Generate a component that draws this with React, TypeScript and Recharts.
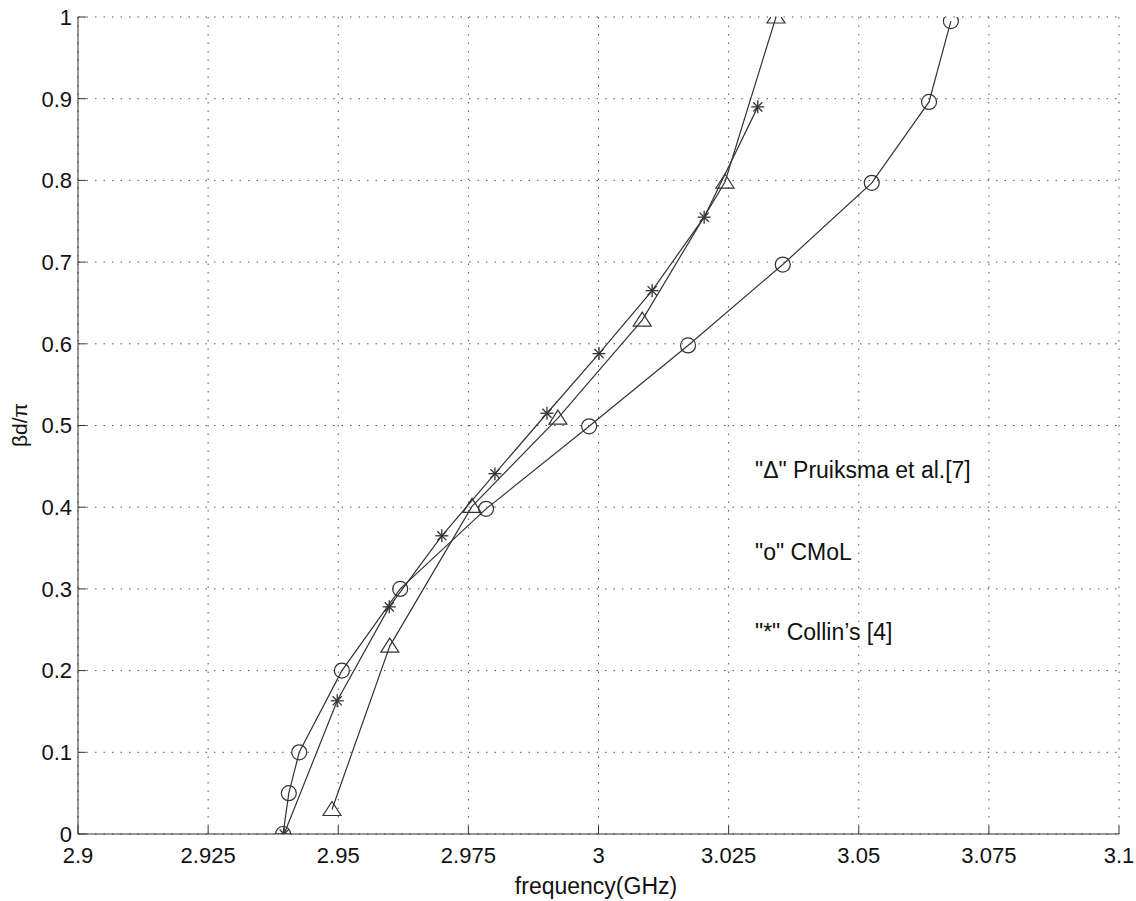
import {
  ScatterChart,
  Scatter,
  XAxis,
  YAxis,
  CartesianGrid,
} from "recharts";

// frequency (GHz) / beta*d/pi
const pruiksmaFreq = [2.9488, 2.9599, 2.9757, 2.9922, 3.0084, 3.0243, 3.0341];
const pruiksmaBeta = [0.03, 0.23, 0.401, 0.509, 0.629, 0.798, 1.0];

const cmolFreq = [2.9394, 2.9405, 2.9425, 2.9507, 2.9619, 2.9784, 2.9982, 3.0172, 3.0354, 3.0525, 3.0635, 3.0677];
const cmolBeta = [0, 0.05, 0.1, 0.2, 0.3, 0.398, 0.499, 0.598, 0.697, 0.797, 0.896, 0.995];

const collinFreq = [2.9396, 2.9498, 2.9598, 2.9699, 2.9801, 2.9901, 3.0001, 3.0103, 3.0203, 3.0306];
const collinBeta = [0, 0.163, 0.278, 0.365, 0.441, 0.515, 0.588, 0.665, 0.755, 0.89];

const xTicks = [2.9, 2.925, 2.95, 2.975, 3, 3.025, 3.05, 3.075, 3.1];
const xTickLabels = ["2.9", "2.925", "2.95", "2.975", "3", "3.025", "3.05", "3.075", "3.1"];
const yTicks = [0, 0.1, 0.2, 0.3, 0.4, 0.5, 0.6, 0.7, 0.8, 0.9, 1];
const yTickLabels = ["0", "0.1", "0.2", "0.3", "0.4", "0.5", "0.6", "0.7", "0.8", "0.9", "1"];

const notes = ['"\u0394" Pruiksma et al.[7]', '"o" CMoL', '"*" Collin\u2019s [4]'];

const toPoints = (fs: number[], bs: number[]) => fs.map((f, i) => ({ f, b: bs[i] }));

const INK = "#333";
const FONT = "'Liberation Sans', Arial, sans-serif";

const Triangle = (p: any) => (
  <polygon
    points={`${p.cx},${p.cy - 8} ${p.cx - 9},${p.cy + 6} ${p.cx + 9},${p.cy + 6}`}
    fill="none"
    stroke={INK}
    strokeWidth={1.2}
  />
);

const Circle = (p: any) => (
  <circle cx={p.cx} cy={p.cy} r={7.5} fill="none" stroke={INK} strokeWidth={1.2} />
);

const Star = (p: any) => {
  const r = 6.5;
  const d = r * 0.7;
  return (
    <g stroke={INK} strokeWidth={1.3}>
      <line x1={p.cx - r} y1={p.cy} x2={p.cx + r} y2={p.cy} />
      <line x1={p.cx} y1={p.cy - r} x2={p.cx} y2={p.cy + r} />
      <line x1={p.cx - d} y1={p.cy - d} x2={p.cx + d} y2={p.cy + d} />
      <line x1={p.cx - d} y1={p.cy + d} x2={p.cx + d} y2={p.cy - d} />
    </g>
  );
};

const lineStyle = { stroke: INK, strokeWidth: 1.2 };
const tickStyle = { fill: "#111", fontSize: 22, fontFamily: FONT };

export default function App() {
  return (
    <div style={{ position: "absolute", left: 0, top: 0, width: 1136, height: 901, background: "#fff" }}>
      <ScatterChart
        width={1136}
        height={901}
        margin={{ top: 17, right: 17, left: 18, bottom: 27 }}
      >
        <CartesianGrid stroke="#555" strokeDasharray="1.5 7" />
        <XAxis
          xAxisId={0}
          type="number"
          dataKey="f"
          domain={[2.9, 3.1]}
          ticks={xTicks}
          tickFormatter={(v: number) => xTickLabels[xTicks.indexOf(v)] ?? String(v)}
          tickSize={-8}
          tickMargin={21}
          height={40}
          stroke={INK}
          tick={tickStyle}
          allowDataOverflow
        />
        <XAxis
          xAxisId="top"
          orientation="top"
          type="number"
          domain={[2.9, 3.1]}
          ticks={xTicks}
          tickSize={-8}
          tick={false}
          height={0}
          stroke={INK}
          allowDataOverflow
        />
        <YAxis
          yAxisId={0}
          type="number"
          dataKey="b"
          domain={[0, 1]}
          ticks={yTicks}
          tickFormatter={(v: number) => yTickLabels[yTicks.indexOf(v)] ?? String(v)}
          tickSize={-8}
          tickMargin={14}
          width={60}
          stroke={INK}
          tick={tickStyle}
          allowDataOverflow
        />
        <YAxis
          yAxisId="right"
          orientation="right"
          type="number"
          domain={[0, 1]}
          ticks={yTicks}
          tickSize={-8}
          tick={false}
          width={0}
          stroke={INK}
          allowDataOverflow
        />
        <Scatter
          data={toPoints(pruiksmaFreq, pruiksmaBeta)}
          line={lineStyle}
          lineType="joint"
          shape={Triangle}
          isAnimationActive={false}
        />
        <Scatter
          data={toPoints(cmolFreq, cmolBeta)}
          line={lineStyle}
          lineType="joint"
          shape={Circle}
          isAnimationActive={false}
        />
        <Scatter
          data={toPoints(collinFreq, collinBeta)}
          line={lineStyle}
          lineType="joint"
          shape={Star}
          isAnimationActive={false}
        />
      </ScatterChart>

      {notes.map((t, i) => (
        <div
          key={t}
          style={{
            position: "absolute",
            left: 755,
            top: [470, 552, 632][i] - 14,
            fontFamily: FONT,
            fontSize: 23,
            color: "#111",
            whiteSpace: "nowrap",
            lineHeight: "28px",
          }}
        >
          {t}
        </div>
      ))}

      <div
        style={{
          position: "absolute",
          left: 0,
          width: 1192,
          top: 873,
          textAlign: "center",
          fontFamily: FONT,
          fontSize: 23,
          color: "#111",
          lineHeight: "26px",
        }}
      >
        frequency(GHz)
      </div>

      <div
        style={{
          position: "absolute",
          left: 20,
          top: 425,
          transform: "translate(-50%, -50%) rotate(-90deg)",
          fontFamily: FONT,
          fontSize: 21,
          color: "#111",
          whiteSpace: "nowrap",
        }}
      >
        βd/π
      </div>
    </div>
  );
}
